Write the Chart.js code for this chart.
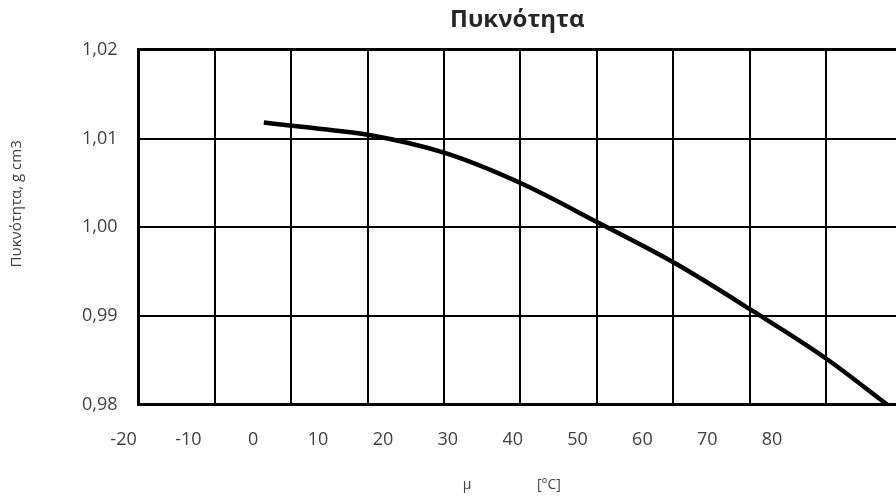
<!DOCTYPE html>
<html>
<head>
<meta charset="utf-8">
<script src="https://cdn.jsdelivr.net/npm/chart.js@4"></script>
<style>
  html, body { margin: 0; padding: 0; background: #fff; }
  #wrap { width: 896px; height: 502px; }
</style>
</head>
<body>
<div id="wrap"><canvas id="chart"></canvas></div>
<script>
// curve (x in grid units, density in g/cm3)
var tempX = [-3.6, 0.4, 10.2, 20.0, 30.2, 40.2, 50.3, 60.5, 70.0, 78.0];
var density = [1.0118, 1.0114, 1.0104, 1.0084, 1.0049, 1.0005, 0.9959, 0.9905, 0.9852, 0.9800];

var gridX = [-20, -10, 0, 10, 20, 30, 40, 50, 60, 70, 80];
var xTickLabels = [-20, -10, 0, 10, 20, 30, 40, 50, 60, 70, 80];
var yTickValues = [0.98, 0.99, 1.00, 1.01, 1.02];
var yTickLabels = ['0,98', '0,99', '1,00', '1,01', '1,02'];

var chartTitle = 'Πυκνότητα';
var yTitle = '            Πυκνότητα, g cm3';
var xTitle = 'μ                  [°C]   ';

var points = [];
for (var i = 0; i < tempX.length; i++) {
    points.push({ x: tempX[i], y: density[i] });
}

var labelColor = '#404040';
var fontFam = '"Open Sans", "DejaVu Sans", sans-serif';

var ctx = document.getElementById('chart').getContext('2d');
var chart = new Chart(ctx, {
    type: 'line',
    data: {
        datasets: [{
            data: points,
            borderColor: '#000',
            borderWidth: 4.5,
            pointRadius: 0,
            cubicInterpolationMode: 'monotone',
            fill: false
        }]
    },
    options: {
        responsive: true,
        maintainAspectRatio: false,
        animation: false,
        layout: { padding: 0 },
        plugins: {
            legend: { display: false },
            tooltip: { enabled: false }
        },
        scales: {
            x: {
                type: 'linear',
                position: 'bottom',
                min: -20,
                max: 79.16,
                weight: 0,
                afterBuildTicks: function (axis) {
                    axis.ticks = gridX.map(function (v) { return { value: v }; });
                },
                ticks: { display: false },
                grid: { color: '#000', lineWidth: 2, drawTicks: false },
                border: { display: true, color: '#000', width: 3 }
            },
            xl: {
                type: 'linear',
                position: 'bottom',
                min: -17.69,
                max: 99.1,
                weight: 1,
                afterBuildTicks: function (axis) {
                    axis.ticks = xTickLabels.map(function (v) { return { value: v }; });
                },
                ticks: {
                    autoSkip: false,
                    maxRotation: 0,
                    padding: 24,
                    color: labelColor,
                    font: { family: fontFam, size: 18 },
                    callback: function (v) { return String(v); }
                },
                grid: { display: false, drawTicks: false },
                border: { display: false },
                title: {
                    display: true,
                    text: xTitle,
                    color: labelColor,
                    font: { family: fontFam, size: 14 },
                    padding: { top: 2, bottom: 9 }
                }
            },
            xt: {
                type: 'linear',
                position: 'top',
                min: 0,
                max: 1,
                ticks: { display: false },
                grid: { display: false, drawTicks: false },
                border: { display: true, color: '#000', width: 3 },
                title: {
                    display: true,
                    text: chartTitle,
                    color: '#262626',
                    font: { family: fontFam, size: 24, weight: 'bold' },
                    padding: { top: 6, bottom: 15 }
                }
            },
            y: {
                type: 'linear',
                min: 0.98,
                max: 1.02,
                afterBuildTicks: function (axis) {
                    axis.ticks = yTickValues.map(function (v) { return { value: v }; });
                },
                ticks: {
                    padding: 21,
                    color: labelColor,
                    font: { family: fontFam, size: 18 },
                    callback: function (v, idx) { return yTickLabels[idx]; }
                },
                grid: { color: '#000', lineWidth: 2, drawTicks: false },
                border: { display: true, color: '#000', width: 3 },
                title: {
                    display: true,
                    text: yTitle,
                    color: labelColor,
                    font: { family: fontFam, size: 15 },
                    padding: { top: 8, bottom: 35 }
                }
            }
        }
    }
});
</script>
</body>
</html>
